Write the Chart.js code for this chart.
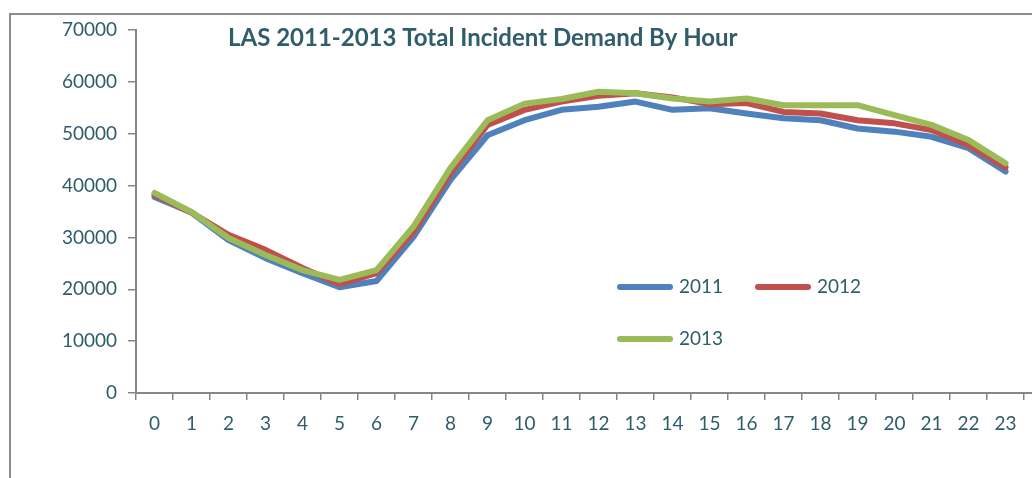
<!DOCTYPE html>
<html>
<head>
<meta charset="utf-8">
<script src="https://cdn.jsdelivr.net/npm/chart.js@4.4.1/dist/chart.umd.min.js"></script>
<style>
  html, body { margin: 0; padding: 0; background: #fff; }
  #wrap { position: relative; width: 1032px; height: 478px; }
</style>
</head>
<body>
<div id="wrap"><canvas id="grafico" width="1032" height="478"></canvas></div>
<script>
// datos
const horas = ['0','1','2','3','4','5','6','7','8','9','10','11','12','13','14','15','16','17','18','19','20','21','22','23'];
const serie2011 = [37800, 34800, 29500, 26000, 23100, 20400, 21600, 30100, 41100, 49700, 52600, 54600, 55200, 56200, 54600, 54900, 53900, 53000, 52600, 51000, 50400, 49400, 47200, 42700];
const serie2012 = [38200, 34800, 30500, 27600, 24100, 21000, 23100, 31100, 42400, 51700, 54600, 56200, 57300, 57800, 57000, 55700, 55900, 54200, 53900, 52600, 52000, 50700, 47800, 43500];
const serie2013 = [38600, 34900, 29900, 26600, 23700, 21800, 23700, 32100, 43400, 52600, 55800, 56700, 58100, 57800, 56800, 56200, 56800, 55500, 55500, 55500, 53600, 51700, 48800, 44300];
const titulo = 'LAS 2011-2013 Total Incident Demand By Hour';

const colorTexto = '#2f5d6a';
const colorEje = '#868686';
const fuente = 'Lato, "DejaVu Sans", sans-serif';

// marco, titulo y leyenda dibujados a mano
const extras = {
    id: 'extras',
    beforeDraw(chart) {
        const ctx = chart.ctx;
        ctx.save();
        ctx.strokeStyle = '#8c8c8c';
        ctx.lineWidth = 2;
        ctx.beginPath();
        ctx.moveTo(10, 478);
        ctx.lineTo(10, 14);
        ctx.lineTo(1032, 14);
        ctx.stroke();
        ctx.restore();
    },
    afterDraw(chart) {
        const ctx = chart.ctx;
        ctx.save();
        // el eje x sigue hasta el borde
        const ejeY = chart.scales.x.top;
        ctx.strokeStyle = colorEje;
        ctx.lineWidth = 2;
        ctx.beginPath();
        ctx.moveTo(chart.chartArea.right, ejeY);
        ctx.lineTo(1032, ejeY);
        ctx.stroke();

        ctx.fillStyle = colorTexto;
        ctx.font = 'bold 24px ' + fuente;
        ctx.textAlign = 'left';
        ctx.textBaseline = 'middle';
        ctx.fillText(titulo, 228, 38);

        // leyenda
        const items = [
            { ds: 0, x: 617, y: 287 },
            { ds: 1, x: 755, y: 287 },
            { ds: 2, x: 617, y: 339 }
        ];
        ctx.font = '19px ' + fuente;
        ctx.lineCap = 'round';
        ctx.lineWidth = 6;
        items.forEach(it => {
            const ds = chart.data.datasets[it.ds];
            ctx.strokeStyle = ds.borderColor;
            ctx.beginPath();
            ctx.moveTo(it.x + 3, it.y);
            ctx.lineTo(it.x + 53, it.y);
            ctx.stroke();
            ctx.fillStyle = colorTexto;
            ctx.fillText(ds.label, it.x + 62, it.y);
        });
        ctx.restore();
    }
};

const linea = (label, data, color, orden) => ({
    label: label,
    data: data,
    borderColor: color,
    backgroundColor: color,
    borderWidth: 6,
    pointRadius: 0,
    tension: 0,
    borderJoinStyle: 'round',
    borderCapStyle: 'round',
    order: orden
});

new Chart(document.getElementById('grafico').getContext('2d'), {
    type: 'line',
    data: {
        labels: horas,
        datasets: [
            linea('2011', serie2011, '#4F81BD', 3),
            linea('2012', serie2012, '#C0504D', 2),
            linea('2013', serie2013, '#9BBB59', 1)
        ]
    },
    options: {
        responsive: false,
        animation: false,
        layout: { padding: { top: 30, right: 8, left: 0, bottom: 0 } },
        plugins: {
            legend: { display: false },
            title: { display: false },
            tooltip: { enabled: false }
        },
        scales: {
            x: {
                offset: true,
                afterFit: s => { s.height = 85; },
                border: { display: true, color: colorEje, width: 2 },
                grid: {
                    offset: true,
                    drawOnChartArea: false,
                    drawTicks: true,
                    tickLength: 7,
                    lineWidth: 1.5,
                    color: c => (c.index === horas.length ? 'rgba(0,0,0,0)' : colorEje)
                },
                ticks: {
                    color: colorTexto,
                    font: { family: fuente, size: 19 },
                    padding: 12,
                    maxRotation: 0,
                    autoSkip: false
                }
            },
            y: {
                min: 0,
                max: 70000,
                afterFit: s => { s.width = 136; },
                border: { display: true, color: colorEje, width: 2 },
                grid: {
                    drawOnChartArea: false,
                    drawTicks: true,
                    tickLength: 8,
                    lineWidth: 1.5,
                    color: colorEje
                },
                ticks: {
                    stepSize: 10000,
                    color: colorTexto,
                    font: { family: fuente, size: 19 },
                    padding: 11,
                    callback: v => String(v)
                }
            }
        }
    },
    plugins: [extras]
});
</script>
</body>
</html>
